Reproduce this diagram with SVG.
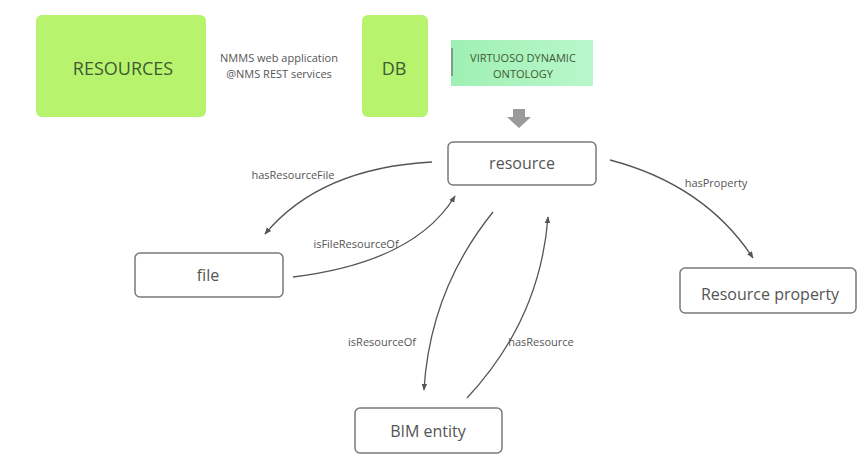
<svg xmlns="http://www.w3.org/2000/svg" width="857" height="456" viewBox="0 0 857 456">
<style>
.node rect{fill:#fff;stroke:#7a7a7a;stroke-width:1.5}
.nl{font-family:"Open Sans","Liberation Sans",sans-serif;font-size:16px;fill:#555;text-anchor:middle;dominant-baseline:central}
.el{font-family:"Open Sans","Liberation Sans",sans-serif;font-size:11px;fill:#555;text-anchor:middle;dominant-baseline:central}
.conn path{fill:none;stroke:#555;stroke-width:1.3;marker-end:url(#ah)}
.green{fill:#b8f36e}
.gt{font-family:"Open Sans","Liberation Sans",sans-serif;fill:#3f5a33;text-anchor:middle;dominant-baseline:central}
</style>
<defs>
<marker id="ah" viewBox="0 0 10 10" refX="9" refY="5" markerWidth="7" markerHeight="7" orient="auto-start-reverse" markerUnits="userSpaceOnUse">
<path d="M0,1 L10,5 L0,9 z" fill="#555"/>
</marker>
<linearGradient id="vg" x1="0" y1="0" x2="1" y2="0">
<stop offset="0" stop-color="#9ff0b4"/>
<stop offset="1" stop-color="#b9f7cb"/>
</linearGradient>
</defs>
<rect width="857" height="456" fill="#fff"/>
<g id="resources-top">
<rect class="green" x="36" y="15" width="170" height="102" rx="6"/>
<text class="gt" x="123" y="68" font-size="18">RESOURCES</text>
</g>
<g id="webapp-label">
<text class="el" x="279" y="57">NMMS web application</text>
<text class="el" x="279" y="73">@NMS REST services</text>
</g>
<g id="db">
<rect class="green" x="362" y="15" width="66" height="102" rx="6"/>
<text class="gt" x="394" y="68" font-size="18">DB</text>
</g>
<g id="virtuoso">
<rect x="451" y="40" width="142" height="46" fill="url(#vg)"/>
<line x1="452" y1="48" x2="452" y2="76" stroke="#555" stroke-width="1"/>
<text class="gt" x="523" y="57" font-size="11">VIRTUOSO DYNAMIC</text>
<text class="gt" x="523" y="73" font-size="11">ONTOLOGY</text>
</g>
<g id="down-arrow">
<polygon points="513,109 525,109 525,117 531,117 519,128 507,117 513,117" fill="#9a9a9a"/>
</g>
<g id="resource" class="node">
<rect x="448" y="142" width="148" height="43" rx="5"/>
<text class="nl" x="522" y="163">resource</text>
</g>
<g id="file" class="node">
<rect x="135" y="253" width="148" height="44" rx="5"/>
<text class="nl" x="208" y="275">file</text>
</g>
<g id="resource-property" class="node">
<rect x="680" y="268" width="176" height="45" rx="5"/>
<text class="nl" x="770" y="294">Resource property</text>
</g>
<g id="bim-entity" class="node">
<rect x="355" y="408" width="147" height="45" rx="5"/>
<text class="nl" x="428" y="431">BIM entity</text>
</g>
<g id="connectors" class="conn">
<path d="M432,162 Q320,168 265,234"/>
<path d="M293,277 Q415,262 455,196"/>
<path d="M610,160 Q705,185 753,258"/>
<path d="M493,212 Q430,290 424,390"/>
<path d="M467,398 Q540,320 548,217"/>
</g>
<g id="edge-labels">
<text class="el" x="293" y="174">hasResourceFile</text>
<text class="el" x="356" y="243">isFileResourceOf</text>
<text class="el" x="716" y="182">hasProperty</text>
<text class="el" x="382" y="341">isResourceOf</text>
<text class="el" x="541" y="341">hasResource</text>
</g>
</svg>
